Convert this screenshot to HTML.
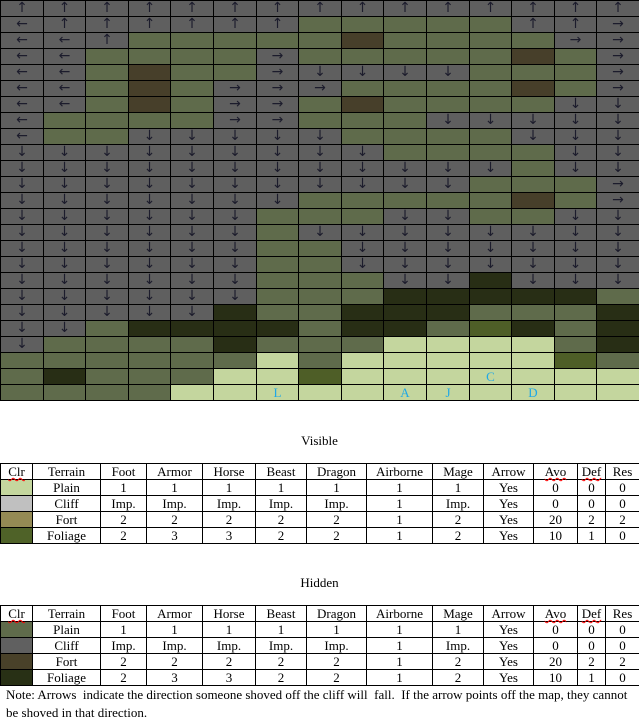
<!DOCTYPE html>
<html><head><meta charset="utf-8">
<style>
body{margin:0;width:639px;height:725px;background:#fff;position:relative;overflow:hidden;font-family:"Liberation Serif",serif;}
#grid{position:absolute;left:0;top:0;width:639px;height:401px;background:#000;}
.cell{position:absolute;text-align:center;font-size:14px;line-height:15px;color:#1c1c2c;font-family:"DejaVu Sans",sans-serif;}
.lbl{font-family:"Liberation Serif",serif;color:#1fa8e6;font-size:13px;}
.title{position:absolute;width:639px;text-align:center;font-size:13px;}
table{position:absolute;left:0;border-collapse:collapse;table-layout:fixed;width:639px;font-size:13px;}
td{border:1px solid #000;height:15px;padding:0;text-align:center;line-height:15px;}
.sq{text-decoration:underline wavy red;text-decoration-thickness:1px;}
.note{position:absolute;left:6px;top:686px;width:630px;font-size:13px;line-height:18px;}
</style></head><body>
<div id="grid"></div>
<div class="title" style="top:433px">Visible</div>
<table style="top:463px">
<colgroup><col style="width:32px"><col style="width:68px"><col style="width:46px"><col style="width:56px"><col style="width:53px"><col style="width:51px"><col style="width:60px"><col style="width:66px"><col style="width:51px"><col style="width:50px"><col style="width:44px"><col style="width:28px"><col style="width:34px"></colgroup>
<tr><td><span class="sq">Clr</span></td><td>Terrain</td><td>Foot</td><td>Armor</td><td>Horse</td><td>Beast</td><td>Dragon</td><td>Airborne</td><td>Mage</td><td>Arrow</td><td><span class="sq">Avo</span></td><td><span class="sq">Def</span></td><td>Res</td></tr>
<tr><td style="background:#c4d69e"></td><td>Plain</td><td>1</td><td>1</td><td>1</td><td>1</td><td>1</td><td>1</td><td>1</td><td>Yes</td><td>0</td><td>0</td><td>0</td></tr>
<tr><td style="background:#c0c0c0"></td><td>Cliff</td><td>Imp.</td><td>Imp.</td><td>Imp.</td><td>Imp.</td><td>Imp.</td><td>1</td><td>Imp.</td><td>Yes</td><td>0</td><td>0</td><td>0</td></tr>
<tr><td style="background:#948a54"></td><td>Fort</td><td>2</td><td>2</td><td>2</td><td>2</td><td>2</td><td>1</td><td>2</td><td>Yes</td><td>20</td><td>2</td><td>2</td></tr>
<tr><td style="background:#4f6228"></td><td>Foliage</td><td>2</td><td>3</td><td>3</td><td>2</td><td>2</td><td>1</td><td>2</td><td>Yes</td><td>10</td><td>1</td><td>0</td></tr>
</table>
<div class="title" style="top:575px">Hidden</div>
<table style="top:605px">
<colgroup><col style="width:32px"><col style="width:68px"><col style="width:46px"><col style="width:56px"><col style="width:53px"><col style="width:51px"><col style="width:60px"><col style="width:66px"><col style="width:51px"><col style="width:50px"><col style="width:44px"><col style="width:28px"><col style="width:34px"></colgroup>
<tr><td><span class="sq">Clr</span></td><td>Terrain</td><td>Foot</td><td>Armor</td><td>Horse</td><td>Beast</td><td>Dragon</td><td>Airborne</td><td>Mage</td><td>Arrow</td><td><span class="sq">Avo</span></td><td><span class="sq">Def</span></td><td>Res</td></tr>
<tr><td style="background:#5f6b4b"></td><td>Plain</td><td>1</td><td>1</td><td>1</td><td>1</td><td>1</td><td>1</td><td>1</td><td>Yes</td><td>0</td><td>0</td><td>0</td></tr>
<tr><td style="background:#606060"></td><td>Cliff</td><td>Imp.</td><td>Imp.</td><td>Imp.</td><td>Imp.</td><td>Imp.</td><td>1</td><td>Imp.</td><td>Yes</td><td>0</td><td>0</td><td>0</td></tr>
<tr><td style="background:#494129"></td><td>Fort</td><td>2</td><td>2</td><td>2</td><td>2</td><td>2</td><td>1</td><td>2</td><td>Yes</td><td>20</td><td>2</td><td>2</td></tr>
<tr><td style="background:#283015"></td><td>Foliage</td><td>2</td><td>3</td><td>3</td><td>2</td><td>2</td><td>1</td><td>2</td><td>Yes</td><td>10</td><td>1</td><td>0</td></tr>
</table>
<div class="note">Note: Arrows &nbsp;indicate the direction someone shoved off the cliff will &nbsp;fall. &nbsp;If the arrow points off the map, they cannot be shoved in that direction.</div>
<script>
const rows = [
"u u u u u u u u u u u u u u u",
"l u u u u u u G G G G G u u r",
"l l u G G G G G F G G G G r r",
"l l G G G G r G G G G G F G r",
"l l G F G G r d d d d G G G r",
"l l G F G r r r G G G G F G r",
"l l G F G r r G F G G G G d d",
"l G G G G r r G G G d d d d d",
"l G G d d d d d G G G G d d d",
"d d d d d d d d d G G G G d d",
"d d d d d d d d d d d d G d d",
"d d d d d d d d d d d G G G r",
"d d d d d d d G G G G G F G r",
"d d d d d d G G G d d G G d d",
"d d d d d d G d d d d d d d d",
"d d d d d d G G d d d d d d d",
"d d d d d d G G d d d d d d d",
"d d d d d d G G G d d D d d d",
"d d d d d d G G G D D D D D G",
"d d d d d D G G D D D G G G D",
"d d G D D D D G D D G V D G D",
"d G G G G D G G G L L L L G D",
"G G G G G G L G L L L L L V G",
"G D G G G L L V L L L L:C L L L",
"G G G G L L L:L L L L:A L:J L L:D L L"
];
const colors = {G:"#5f6b4b",F:"#473f2a",D:"#282e15",L:"#c4d69e",V:"#4e5e27",g:"#5f5f5f"};
const arrows = {u:"↑",d:"↓",l:"←",r:"→"};
const grid = document.getElementById('grid');
const cw = 639/15, rh = 16;
rows.forEach((row, r) => {
  row.split(' ').forEach((tok, c) => {
    const x0 = Math.round(c*cw), x1 = Math.round((c+1)*cw);
    const el = document.createElement('div');
    el.className = 'cell';
    el.style.left = (x0+1)+'px';
    el.style.width = (x1-x0-1)+'px';
    el.style.top = (r*rh+1)+'px';
    el.style.height = (rh-1)+'px';
    const [t, label] = tok.split(':');
    if (arrows[t]) {
      el.style.background = colors.g;
      el.textContent = arrows[t];
      
    } else {
      el.style.background = colors[t];
      
      if (label) {
        el.innerHTML = '<span class="lbl">'+label+'</span>';
        
      }
    }
    
    grid.appendChild(el);
  });
});
</script>
</body></html>
